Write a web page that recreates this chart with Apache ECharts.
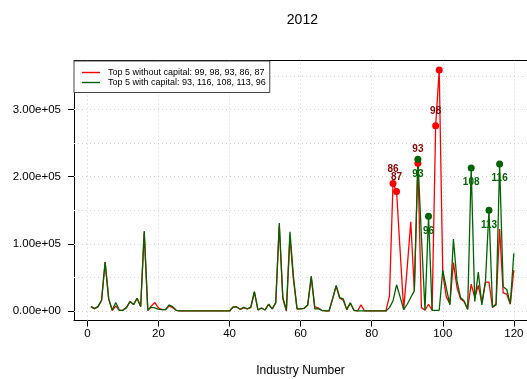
<!DOCTYPE html>
<html>
<head>
<meta charset="utf-8">
<script src="https://cdn.jsdelivr.net/npm/echarts@6/dist/echarts.min.js"></script>
<style>
  html, body { margin: 0; padding: 0; background: #fff; }
  #chart { width: 527px; height: 379px; }
</style>
</head>
<body>
<div id="chart"></div>
<script>
// Industry values for 2012, industries 1..120
const industries = Array.from({ length: 120 }, (_, k) => k + 1);

const withoutCapital = [
  6500, 3500, 6500, 16000, 73000, 18000, 500, 7500, 1000, 1000,
  5000, 14000, 9500, 19000, 6500, 117000, 500, 7500, 12500, 4500,
  2000, 2000, 7500, 5000, 1000, 0, 0, 0, 0, 0,
  0, 0, 0, 0, 0, 0, 0, 0, 0, 0,
  5500, 6000, 2500, 4500, 3000, 5000, 28000, 1500, 4500, 1500,
  10000, 3000, 12000, 127000, 18000, 0, 110000, 46000, 3000, 3000,
  4000, 9000, 50000, 6000, 4500, 1000, 0, 0, 18000, 37000,
  19000, 16000, 2000, 12000, 1000, 0, 9000, 0, 0, 0,
  0, 0, 0, 0, 22000, 190000, 178000, 90000, 2000, 65000,
  133000, 30000, 220000, 5000, 1000, 10000, 1000, 276000, 359000, 55000,
  21000, 11000, 72000, 35000, 18000, 14000, 3000, 40000, 20000, 38000,
  12000, 43000, 43000, 5000, 11000, 122000, 27000, 25000, 10000, 61000
];

const withCapital = [
  6500, 3500, 6500, 16000, 73000, 18000, 1500, 12500, 1000, 1000,
  5000, 14000, 9500, 19000, 6500, 119000, 2000, 5500, 4500, 2500,
  2000, 2000, 9000, 6500, 1000, 0, 0, 0, 0, 0,
  0, 0, 0, 0, 0, 0, 0, 0, 0, 0,
  6000, 6000, 2500, 5500, 3000, 6000, 29000, 1500, 4500, 1500,
  10000, 3000, 12000, 131000, 20000, 1500, 118000, 50000, 3000, 3000,
  4000, 9000, 52000, 3000, 3500, 1000, 0, 0, 18000, 38000,
  20000, 18000, 2000, 12000, 1000, 0, 0, 0, 0, 0,
  0, 0, 0, 0, 5000, 15000, 39000, 21000, 2000, 10000,
  20000, 30000, 226000, 110000, 1000, 141000, 1000, 1000, 1000, 61000,
  34000, 9000, 107000, 45000, 20000, 15000, 2000, 213000, 14000, 58000,
  9000, 43000, 150000, 6000, 9000, 219000, 36000, 32000, 11000, 86000
];

const xTicks = [0, 20, 40, 60, 80, 100, 120];
const yTicks = [0, 100000, 200000, 300000];
const xGridLines = [0, 20, 40, 60, 80, 100, 120];
const yGridLines = [0, 50000, 100000, 150000, 200000, 250000, 300000, 350000];

const titleText = '2012';
const xTitle = 'Industry Number';

// ---------------------------------------------------------------
const FONT = '"Liberation Sans", Arial, Helvetica, sans-serif';
const RED = '#ff0000';
const GREEN = '#006400';

// industries with the five largest values
function topFive(values) {
  return industries.slice()
    .sort((a, b) => values[b - 1] - values[a - 1])
    .slice(0, 5);
}
const topRed = topFive(withoutCapital);
const topGreen = topFive(withCapital);

const nameRed = 'Top 5 without capital: ' + topRed.join(', ');
const nameGreen = 'Top 5 with capital: ' + topGreen.join(', ');

// axis ranges padded by 4% of the data range on each side
const xPad = (industries[industries.length - 1] - industries[0]) * 0.04;
const xMin = industries[0] - xPad;
const pxPerUnit = 3.554;
const gridLeft = 74;
const xMax = xMin + (527 - gridLeft) / pxPerUnit;

const allVals = withoutCapital.concat(withCapital);
const vMax = Math.max(...allVals);
const vMin = Math.min(...allVals);
const yPad = (vMax - vMin) * 0.04;
const yMin = vMin - yPad;
const yMax = vMax + yPad;

function sci(v) {
  if (v === 0) return '0.00e+00';
  const e = Math.floor(Math.log10(Math.abs(v)));
  const m = v / Math.pow(10, e);
  return m.toFixed(2) + 'e' + (e < 0 ? '-' : '+') + String(Math.abs(e)).padStart(2, '0');
}

const pairs = vals => industries.map((x, k) => [x, vals[k]]);

// labels whose text would sit above the plot top are clipped
function topPoints(idxs, vals, pos) {
  return idxs.map(i => ({
    value: [i, vals[i - 1]],
    label: { show: !(pos === 'top' && vals[i - 1] > yMax - 0.1 * (yMax - yMin)) }
  }));
}

const chart = echarts.init(document.getElementById('chart'), null, { renderer: 'canvas' });

chart.setOption({
  animation: false,
  backgroundColor: '#ffffff',
  textStyle: { fontFamily: FONT },
  graphic: [{
    type: 'text',
    x: 302.4,
    y: 19.7,
    style: {
      text: titleText,
      fontFamily: FONT,
      fontSize: 14,
      fill: '#000',
      align: 'center',
      verticalAlign: 'middle'
    }
  }],
  grid: {
    left: gridLeft, right: 0, top: 60.4, bottom: 379 - 320.6,
    outerBoundsMode: 'none', containLabel: false
  },
  legend: {
    left: 74,
    top: 61,
    orient: 'vertical',
    icon: 'rect',
    itemGap: 1,
    itemWidth: 18,
    itemHeight: 1.4,
    padding: [7, 4, 5.5, 8],
    backgroundColor: '#ffffff',
    borderColor: '#444',
    borderWidth: 1,
    borderRadius: 0,
    selectedMode: false,
    textStyle: { fontFamily: FONT, fontSize: 9, color: '#000', padding: [0, 0, 0, 3] },
    data: [nameRed, nameGreen]
  },
  xAxis: [{
    type: 'value',
    min: xMin,
    max: xMax,
    name: xTitle,
    nameLocation: 'middle',
    nameGap: 44,
    nameTextStyle: { fontFamily: FONT, fontSize: 12, color: '#000' },
    axisLine: { show: true, onZero: false, lineStyle: { color: '#000', width: 1 } },
    axisTick: { show: true, length: 6, customValues: xTicks, lineStyle: { color: '#000' } },
    axisLabel: { customValues: xTicks, fontFamily: FONT, fontSize: 11.5, color: '#000', margin: 7 },
    splitLine: { show: false }
  }, {
    type: 'value',
    position: 'top',
    min: xMin,
    max: xMax,
    axisLine: { show: true, onZero: false, lineStyle: { color: '#000', width: 1 } },
    axisTick: { show: false },
    axisLabel: { show: false },
    splitLine: { show: false }
  }],
  yAxis: {
    type: 'value',
    min: yMin,
    max: yMax,
    axisLine: { show: true, onZero: false, lineStyle: { color: '#000', width: 1 } },
    axisTick: { show: true, length: 6, customValues: yTicks, lineStyle: { color: '#000' } },
    axisLabel: { customValues: yTicks, formatter: sci, fontFamily: FONT, fontSize: 11.5, color: '#000', margin: 13 },
    splitLine: { show: false }
  },
  series: [
    {
      // dotted reference grid
      type: 'line',
      name: 'grid',
      data: [],
      z: 1,
      silent: true,
      markLine: {
        z: 1,
        silent: true,
        symbol: ['none', 'none'],
        label: { show: false },
        lineStyle: { color: '#d3d3d3', type: [1, 3], width: 1 },
        emphasis: { disabled: true },
        data: xGridLines.map(v => ({ xAxis: v })).concat(yGridLines.map(v => ({ yAxis: v })))
      }
    },
    {
      type: 'line',
      name: nameRed,
      data: pairs(withoutCapital),
      symbol: 'none',
      z: 2,
      lineStyle: { color: RED, width: 1.3 },
      itemStyle: { color: RED }
    },
    {
      type: 'line',
      name: nameGreen,
      data: pairs(withCapital),
      symbol: 'none',
      z: 3,
      lineStyle: { color: GREEN, width: 1.3 },
      itemStyle: { color: GREEN }
    },
    {
      type: 'scatter',
      name: 'top red',
      data: topPoints(topRed, withoutCapital, 'top'),
      symbolSize: 7,
      z: 4,
      itemStyle: { color: RED, opacity: 1 },
      label: {
        show: true,
        position: 'top',
        distance: 6,
        formatter: p => String(p.value[0]),
        fontFamily: FONT,
        fontSize: 10,
        fontWeight: 'bold',
        color: '#8b0000'
      }
    },
    {
      type: 'scatter',
      name: 'top green',
      data: topPoints(topGreen, withCapital, 'bottom'),
      symbolSize: 7,
      z: 5,
      itemStyle: { color: GREEN, opacity: 1 },
      label: {
        show: true,
        position: 'bottom',
        distance: 6,
        formatter: p => String(p.value[0]),
        fontFamily: FONT,
        fontSize: 10,
        fontWeight: 'bold',
        color: GREEN
      }
    }
  ]
});
</script>
</body>
</html>
